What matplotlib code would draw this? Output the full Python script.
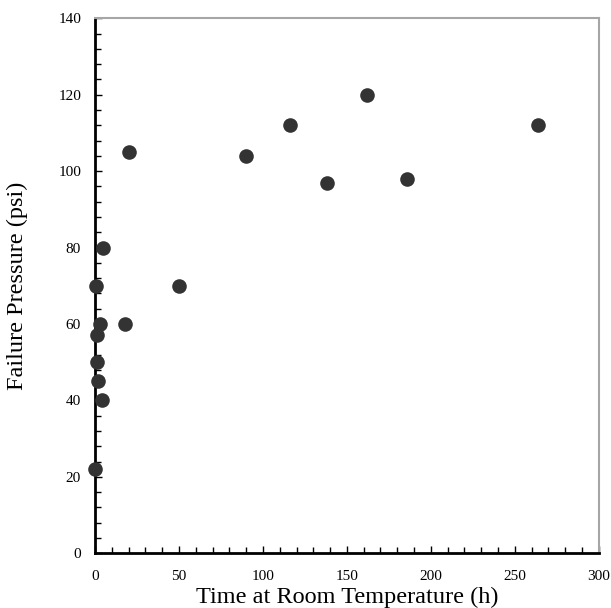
import matplotlib
matplotlib.use("Agg")
from matplotlib import pyplot as plt
from matplotlib.ticker import MultipleLocator

# time at room temperature (h) vs failure pressure (psi)
hours = [0.2, 4, 2, 1, 1.4, 3, 0.4, 5, 18, 20, 50, 90, 116, 138, 162, 186, 264]
pressure = [22, 40, 45, 50, 57, 60, 70, 80, 60, 105, 70, 104, 112, 97, 120, 98, 112]

plt.rcParams['font.family'] = ['Liberation Serif', 'DejaVu Serif']

fig = plt.figure(figsize=(6.11, 6.08), dpi=100)
ax = fig.add_axes([0.1555, 0.09, 0.8245, 0.88])

ax.plot(hours, pressure, 'o', color='#333333', markersize=10.5, markeredgewidth=0, clip_on=False, zorder=3)

ax.set_xlim(0, 300)
ax.set_ylim(0, 140)
ax.xaxis.set_major_locator(MultipleLocator(50))
ax.xaxis.set_minor_locator(MultipleLocator(10))
ax.yaxis.set_major_locator(MultipleLocator(20))
ax.yaxis.set_minor_locator(MultipleLocator(4))

ax.tick_params(which='both', direction='in', width=1, colors='black', labelsize=11)
ax.tick_params(which='major', length=5)
ax.tick_params(which='minor', length=4)
ax.tick_params(axis='y', pad=10)
ax.tick_params(axis='x', pad=12)

for s in ['left', 'bottom']:
    ax.spines[s].set_linewidth(2)
    ax.spines[s].set_color('black')
for s in ['top', 'right']:
    ax.spines[s].set_linewidth(1.5)
    ax.spines[s].set_color('#a6a6a6')

ax.set_xlabel('Time at Room Temperature (h)', fontsize=17.5, labelpad=3)
ax.set_ylabel('Failure Pressure (psi)', fontsize=17.5, labelpad=22)

fig.savefig('out.png', dpi=100)
